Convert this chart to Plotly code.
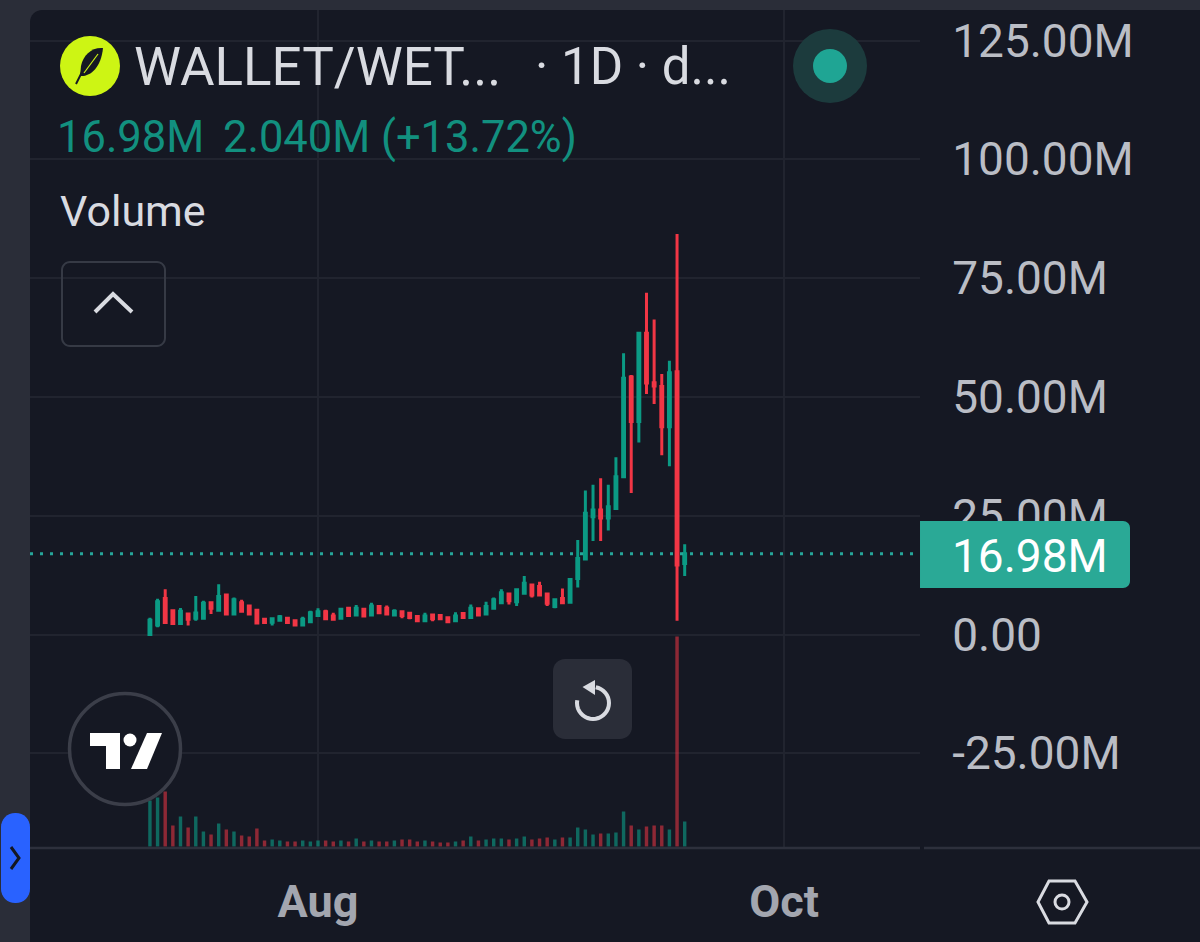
import numpy as np
import pandas as pd
import plotly.graph_objects as go

W, H = 1200, 942

first_day = "2025-07-10"
opens = [0.0,2.0,7.6,5.0,2.3,4.3,3.4,3.4,6.7,5.1,8.3,4.3,6.7,6.0,5.1,3.2,2.6,3.0,3.4,2.9,2.0,2.7,4.0,4.8,3.9,3.4,5.5,4.1,5.3,4.1,5.9,5.5,4.1,4.8,4.45,3.8,2.9,4.1,4.0,3.5,2.9,4.4,3.6,5.4,4.3,5.5,6.7,8.5,6.9,8.7,10.4,10.1,8.5,5.9,7.6,6.8,11.8,15.9,24.8,26.2,24.5,26.5,33.2,54.2,44.8,63.4,53.0,52.2,43.7,55.3,14.94]
highs = [3.5,7.5,9.5,5.3,5.6,4.3,8.1,7.1,6.7,10.6,8.4,7.8,7.3,6.1,5.3,3.2,3.3,4.1,3.75,2.9,3.75,5.0,5.5,5.2,4.6,5.4,5.7,6.2,5.3,6.7,6.0,6.1,5.3,4.8,4.45,3.8,4.6,4.1,4.0,3.5,4.7,4.4,6.3,5.4,6.9,7.8,9.5,8.5,9.7,12.3,10.5,11.1,8.5,7.3,9.7,11.7,19.9,30.3,31.5,32.9,31.5,37.3,59.2,54.6,63.4,71.9,66.3,54.8,57.6,84.3,19.0]
lows = [0.0,1.5,2.3,2.2,2.2,1.9,2.9,3.3,4.3,5.0,4.3,4.2,4.7,4.1,2.2,2.4,1.9,3.0,2.5,1.9,2.0,2.7,4.0,3.3,3.2,3.4,4.0,4.1,3.9,4.1,4.5,4.3,4.1,3.4,3.2,2.9,2.9,2.8,3.2,2.6,2.9,3.6,3.6,4.1,4.3,5.5,6.7,6.3,6.0,8.6,7.8,8.3,6.0,5.5,6.7,6.8,9.9,15.9,19.7,19.7,21.9,26.5,33.2,29.8,40.4,50.6,48.5,37.7,35.4,2.9,12.3]
closes = [3.0,6.9,2.5,2.3,4.9,3.2,4.5,6.6,5.5,8.0,4.3,7.3,4.9,4.3,2.4,2.5,3.3,3.75,2.5,2.0,3.2,4.6,4.8,3.3,3.2,5.3,4.0,5.5,3.9,6.0,4.6,4.3,4.9,4.0,3.6,2.9,3.9,3.3,3.3,2.7,3.9,3.6,5.5,4.1,5.9,7.3,8.8,7.1,9.4,10.8,8.3,8.3,6.6,7.3,6.7,11.6,16.0,25.5,26.2,24.5,26.9,33.2,53.9,44.8,63.4,52.9,52.3,43.7,55.1,14.6,16.98]
volumes = [46,49,55,21,30,19,30,15,12,23,17,15,11,10,18,6,7,6,5,5,6,5,6,6,5,6,5,8,5,6,5,5,6,7,7,5,6,5,4,4,5,6,10,6,7,8,8,7,8,10,7,8,9,7,9,9,19,17,12,13,13,14,35,21,17,20,21,21,17,210,25]

price_ticks = [-25, 0, 25, 50, 75, 100, 125]
price_labels = ["-25.00M", "0.00", "25.00M", "50.00M", "75.00M", "100.00M", "125.00M"]
time_ticks = ["2025-08-01", "2025-10-01"]
time_labels = ["Aug", "Oct"]
last_label = "16.98M"
title_main = "WALLET/WET..."
title_rest = "· 1D · d..."
change_value = "16.98M"
change_text = "2.040M (+13.72%)"

BG_OUT = "#2a2d38"
BG = "#151823"
GRID = "#21242f"
UP = "#0b9a84"
DOWN = "#f23645"
TEXT = "#babdc5"
TEAL = "#26a69a"
ICON = "#d9dbe1"


def px(x):
    return x / W


def py(y):
    return 1 - y / H


def path(points, close=False):
    s = "M " + " L ".join(f"{px(x):.5f},{py(y):.5f}" for x, y in points)
    return s + (" Z" if close else "")


def rounded(x0, y0, x1, y1, r, corners=(1, 1, 1, 1)):
    pts = []
    arcs = [(x1 - r, y0 + r, -90, 0, corners[0]), (x1 - r, y1 - r, 0, 90, corners[1]),
            (x0 + r, y1 - r, 90, 180, corners[2]), (x0 + r, y0 + r, 180, 270, corners[3])]
    for cx, cy, a0, a1, on in arcs:
        if on:
            for a in np.radians(np.linspace(a0, a1, 9)):
                pts.append((cx + r * np.cos(a), cy + r * np.sin(a)))
        else:
            pts.append((cx + r * np.cos(np.radians(a0 + 45)) * 1.4143, cy + r * np.sin(np.radians(a0 + 45)) * 1.4143))
    return path(pts, True)


def shape_path(d, fill=None, line=None, width=0, layer="above"):
    return dict(type="path", xref="paper", yref="paper", path=d, layer=layer,
                fillcolor=fill or "rgba(0,0,0,0)",
                line=dict(color=line or "rgba(0,0,0,0)", width=width))


def circle(cx, cy, r, fill=None, line=None, width=0):
    return dict(type="circle", xref="paper", yref="paper", layer="above",
                x0=px(cx - r), x1=px(cx + r), y0=py(cy + r), y1=py(cy - r),
                fillcolor=fill or "rgba(0,0,0,0)",
                line=dict(color=line or "rgba(0,0,0,0)", width=width))


def label(x, y, text, size, color, anchor="left"):
    return dict(xref="paper", yref="paper", x=px(x), y=py(y), text=text, showarrow=False,
                xanchor=anchor, yanchor="middle", borderpad=0,
                font=dict(family="Roboto", size=size, color=color))


dates = pd.date_range(first_day, periods=len(opens), freq="D")
vol_colors = ["rgba(11,154,132,0.62)" if c >= o else "rgba(242,54,69,0.55)" for o, c in zip(opens, closes)]

fig = go.Figure()
fig.add_trace(go.Bar(x=dates, y=volumes, yaxis="y2", marker=dict(color=vol_colors, line=dict(width=0)),
                     width=0.45 * 86400000, hoverinfo="skip", showlegend=False))
fig.add_trace(go.Candlestick(x=dates, open=opens, high=highs, low=lows, close=closes, whiskerwidth=0,
                             increasing=dict(line=dict(color=UP, width=3), fillcolor=UP),
                             decreasing=dict(line=dict(color=DOWN, width=3), fillcolor=DOWN),
                             hoverinfo="skip", showlegend=False))

PANEL_L, PANEL_R, PANEL_T, AXIS_B = 30, 920, 10, 848
PX_PER_DAY = (784 - 318) / 61
PX_PER_M = 4.752
ZERO_Y = 634.5
aug = pd.Timestamp(time_ticks[0])
x_start = aug - pd.Timedelta(days=(318 - PANEL_L) / PX_PER_DAY)
x_end = aug + pd.Timedelta(days=(PANEL_R - 318) / PX_PER_DAY)

shapes = [
    shape_path(rounded(PANEL_L, PANEL_T, W + 20, H + 20, 12, (0, 0, 0, 1)), fill=BG, layer="below"),
    dict(type="line", xref="paper", yref="y", x0=px(PANEL_L), x1=px(PANEL_R), y0=closes[-1], y1=closes[-1],
         layer="above", line=dict(color=TEAL, width=3, dash="3px,7px")),
    shape_path(path([(PANEL_L, AXIS_B), (920, AXIS_B)]), line="#2d303c", width=2.5),
    shape_path(path([(924, AXIS_B), (W, AXIS_B)]), line="#2d303c", width=2.5),
    shape_path(rounded(920, 521, 1130, 588, 7, (1, 1, 0, 0)), fill="#2aa996"),
    # logo
    circle(90, 66, 30, fill="#cdf514"),
    shape_path(f"M {px(103):.5f},{py(48):.5f} C {px(92):.5f},{py(47):.5f} {px(83):.5f},{py(55):.5f} {px(81):.5f},{py(66):.5f} "
               f"L {px(80):.5f},{py(76):.5f} C {px(90):.5f},{py(77):.5f} {px(101):.5f},{py(68):.5f} {px(103):.5f},{py(48):.5f} Z",
               fill="#151823"),
    shape_path(path([(82, 72), (76, 84)]), line="#151823", width=2),
    shape_path(path([(98, 54), (84, 73)]), line="#cdf514", width=1.2),
    # status dot
    circle(830, 66, 37, fill="#1c3b3d"),
    circle(830, 66, 17, fill="#1fa594"),
    # collapse button
    shape_path(rounded(62, 262, 165, 346, 8), line="#363a45", width=2),
    shape_path(path([(95, 312), (113, 294), (132, 312)]), line=ICON, width=4),
    # TradingView badge
    circle(125, 749, 55.5, fill=BG, line="#3b3e49", width=3.5),
    shape_path(path([(90, 733), (120, 733), (120, 769), (106, 769), (106, 746), (90, 746)], True), fill="#ffffff"),
    circle(130, 740, 6.5, fill="#ffffff"),
    shape_path(path([(147, 733), (162, 733), (147, 769), (131, 769)], True), fill="#ffffff"),
    # reset button
    shape_path(rounded(553, 659, 632, 739, 12), fill="#2a2d38"),
    shape_path(path([(593 + 16 * np.cos(a), 703 + 16 * np.sin(a)) for a in np.radians(np.linspace(-80, 190, 28))]),
               line=ICON, width=4),
    shape_path(path([(582.5, 687), (595, 680), (595, 695)], True), fill=ICON),
    # settings hexagon
    shape_path(path([(1038, 902), (1049, 881), (1075, 881), (1087, 902), (1075, 923), (1049, 923)], True),
               line=ICON, width=3),
    circle(1062, 902, 7, line=ICON, width=3),
    # left tab
    shape_path(rounded(1, 813, 30, 903, 14), fill="#2962ff"),
    shape_path(path([(11, 847), (19, 858), (11, 869)]), line="#131722", width=3),
]

annotations = [
    label(133, 67, title_main, 53, "#d9dbe1"),
    label(534, 67, title_rest, 51, "#d9dbe1"),
    label(56, 138, change_value, 43.5, "#12907f"),
    label(222, 138, change_text, 43.5, "#12907f"),
    label(59, 211, "Volume", 43, "#d9dbe1"),
    label(951, 556, last_label, 46, "#ffffff"),
]

fig.update_layout(
    width=W, height=H, margin=dict(l=0, r=0, t=0, b=0),
    paper_bgcolor=BG_OUT, plot_bgcolor="rgba(0,0,0,0)", boxgap=0.65,
    showlegend=False, hovermode=False, shapes=shapes, annotations=annotations,
    xaxis=dict(type="date", domain=[px(PANEL_L), px(PANEL_R)], range=[x_start, x_end],
               rangeslider=dict(visible=False), tickvals=time_ticks, ticktext=time_labels,
               showgrid=True, gridcolor=GRID, gridwidth=2, zeroline=False, showline=False,
               ticks="outside", ticklen=14, tickcolor="rgba(0,0,0,0)",
               tickfont=dict(family="Roboto", size=45, color="#a3a6af", weight=700)),
    yaxis=dict(domain=[py(AXIS_B), py(PANEL_T)], side="right", tickmode="array",
               range=[(ZERO_Y - AXIS_B) / PX_PER_M, (ZERO_Y - PANEL_T) / PX_PER_M],
               tickvals=price_ticks, ticktext=price_labels, showgrid=True, gridcolor=GRID, gridwidth=2,
               zeroline=False, showline=False, ticks="outside", ticklen=22, tickcolor="rgba(0,0,0,0)",
               tickfont=dict(family="Roboto", size=46, color=TEXT)),
    yaxis2=dict(domain=[py(AXIS_B), py(PANEL_T)], overlaying="y", side="right", visible=False,
                range=[-1.5, AXIS_B - PANEL_T - 1.5], showgrid=False, zeroline=False),
)

fig.write_html("out.html", config=dict(displayModeBar=False),
               post_script="document.body.style.margin='0';document.documentElement.style.overflow='hidden';")
